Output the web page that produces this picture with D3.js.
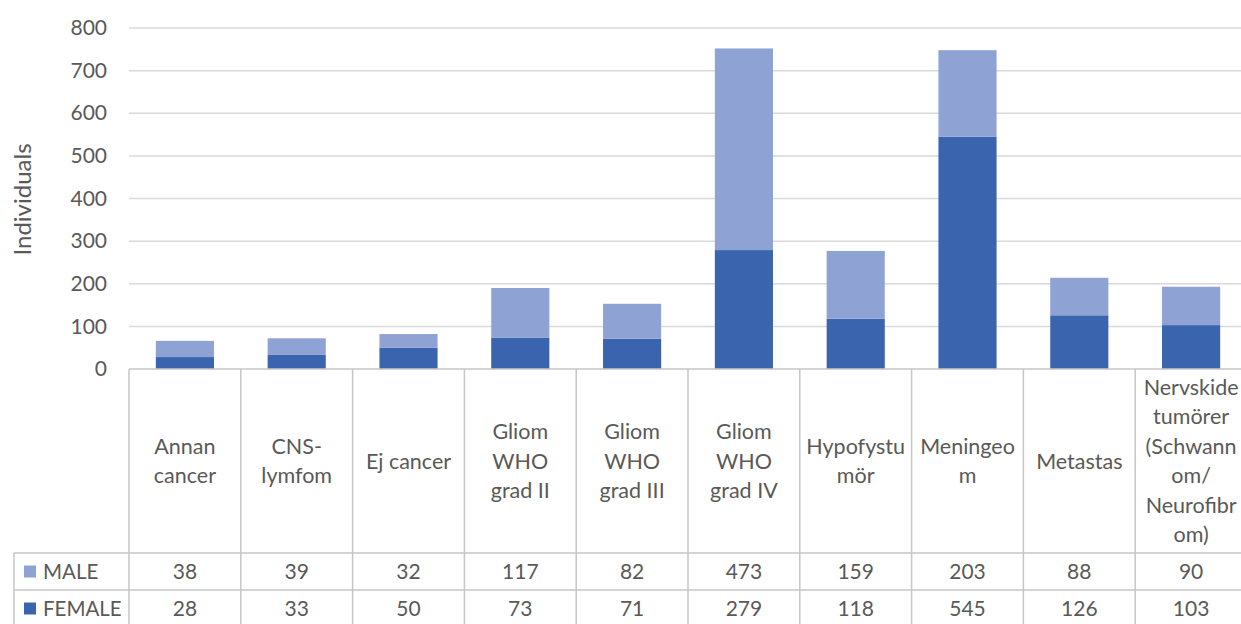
<!DOCTYPE html>
<html>
<head>
<meta charset="utf-8">
<script src="https://cdn.jsdelivr.net/npm/d3@7"></script>
<style>
  body { margin: 0; background: #fff; }
  svg { display: block; font-family: Lato, "Noto Sans", sans-serif; }
</style>
</head>
<body>
<svg id="chart" width="1241" height="624"></svg>
<script>
// categories (as wrapped in the data table header)
const categories = ['Annan cancer', 'CNS-lymfom', 'Ej cancer', 'Gliom WHO grad II', 'Gliom WHO grad III',
  'Gliom WHO grad IV', 'Hypofystumör', 'Meningeom', 'Metastas', 'Nervskide tumörer (Schwannom/ Neurofibrom)']
const categoryLines = [
  ['Annan', 'cancer'],
  ['CNS-', 'lymfom'],
  ['Ej cancer'],
  ['Gliom', 'WHO', 'grad II'],
  ['Gliom', 'WHO', 'grad III'],
  ['Gliom', 'WHO', 'grad IV'],
  ['Hypofystu', 'mör'],
  ['Meningeo', 'm'],
  ['Metastas'],
  ['Nervskide', 'tumörer', '(Schwann', 'om/', 'Neurofibr', 'om)']
]
const female = [28, 33, 50, 73, 71, 279, 118, 545, 126, 103]
const male = [38, 39, 32, 117, 82, 473, 159, 203, 88, 90]
const yTicks = [0, 100, 200, 300, 400, 500, 600, 700, 800]

const colors = {FEMALE: '#3a64ad', MALE: '#8fa2d4'}
const textColor = '#595959'
const gridColor = '#d9d9d9'
const cellColor = '#c6c6c6'

const svg = d3.select('#chart')
const plotLeft = 129, plotRight = 1247, plotTop = 28, base = 369
const headBottom = 553, row1 = 590, row2 = 627, legendLeft = 14

const rows = categories.map((c, i) => ({cat: c, FEMALE: female[i], MALE: male[i]}))
const stack = d3.stack().keys(['FEMALE', 'MALE'])(rows)

const x = d3.scaleBand().domain(categories).range([plotLeft, plotRight]).paddingInner(0.48).paddingOuter(0.24)
const cols = d3.scaleBand().domain(categories).range([plotLeft, plotRight]).padding(0)
const y = d3.scaleLinear().domain([0, 800]).range([base, plotTop])

// gridlines
svg.append('g').selectAll('line')
  .data(yTicks.filter(d => d > 0))
  .join('line')
  .attr('x1', plotLeft).attr('x2', 1241)
  .attr('y1', d => y(d)).attr('y2', d => y(d))
  .attr('stroke', gridColor).attr('stroke-width', 1.5)

// y axis labels
const yAxis = d3.axisLeft(y).tickValues(yTicks).tickSize(0).tickPadding(22)
const gY = svg.append('g').attr('transform', `translate(${plotLeft},0)`).call(yAxis)
gY.select('.domain').remove()
gY.selectAll('text').attr('fill', textColor).style('font-size', '21px').style('font-family', 'Lato, "Noto Sans", sans-serif')

svg.append('text')
  .attr('transform', `translate(31,${(plotTop + base) / 2 + 1}) rotate(-90)`)
  .attr('text-anchor', 'middle')
  .attr('fill', textColor)
  .style('font-size', '24px')
  .text('Individuals')

// bars
svg.append('g').selectAll('g')
  .data(stack)
  .join('g')
  .attr('fill', d => colors[d.key])
  .selectAll('rect')
  .data(d => d)
  .join('rect')
  .attr('x', d => x(d.data.cat))
  .attr('width', x.bandwidth())
  .attr('y', d => y(d[1]))
  .attr('height', d => y(d[0]) - y(d[1]))

// data table
const table = svg.append('g').attr('stroke', cellColor).attr('stroke-width', 1.5)
table.append('line').attr('x1', plotLeft).attr('x2', plotRight).attr('y1', base).attr('y2', base)
table.append('line').attr('x1', legendLeft).attr('x2', plotRight).attr('y1', headBottom).attr('y2', headBottom)
table.append('line').attr('x1', legendLeft).attr('x2', plotRight).attr('y1', row1).attr('y2', row1)
table.append('line').attr('x1', legendLeft).attr('x2', legendLeft).attr('y1', headBottom).attr('y2', row2)
table.selectAll('.col')
  .data(categories)
  .join('line')
  .attr('class', 'col')
  .attr('x1', d => cols(d)).attr('x2', d => cols(d))
  .attr('y1', base).attr('y2', row2)

// header labels
const lineH = 29.5
svg.append('g').selectAll('text')
  .data(categories)
  .join('text')
  .attr('text-anchor', 'middle')
  .attr('fill', textColor)
  .style('font-size', '21.5px')
  .each(function (d, i) {
    const lines = categoryLines[i]
    const cx = cols(d) + cols.bandwidth() / 2
    const cy = (base + headBottom) / 2 - (lines.length - 1) * lineH / 2
    d3.select(this).selectAll('tspan')
      .data(lines)
      .join('tspan')
      .attr('x', cx)
      .attr('y', (l, j) => cy + j * lineH)
      .attr('dy', '0.35em')
      .text(l => l)
  })

// value rows
const series = [{key: 'MALE', values: male, y0: headBottom, y1: row1}, {key: 'FEMALE', values: female, y0: row1, y1: row2}]
series.forEach(s => {
  const cy = (s.y0 + s.y1) / 2
  svg.append('rect')
    .attr('x', 24).attr('y', cy - 6).attr('width', 12).attr('height', 12)
    .attr('fill', colors[s.key])
  svg.append('text')
    .attr('x', 43).attr('y', cy).attr('dy', '0.35em')
    .attr('fill', textColor).style('font-size', '20.5px')
    .text(s.key)
  svg.append('g').selectAll('text')
    .data(s.values)
    .join('text')
    .attr('x', (d, i) => cols(categories[i]) + cols.bandwidth() / 2)
    .attr('y', cy).attr('dy', '0.35em')
    .attr('text-anchor', 'middle')
    .attr('fill', textColor).style('font-size', '21px')
    .text(d => d)
})
</script>
</body>
</html>
